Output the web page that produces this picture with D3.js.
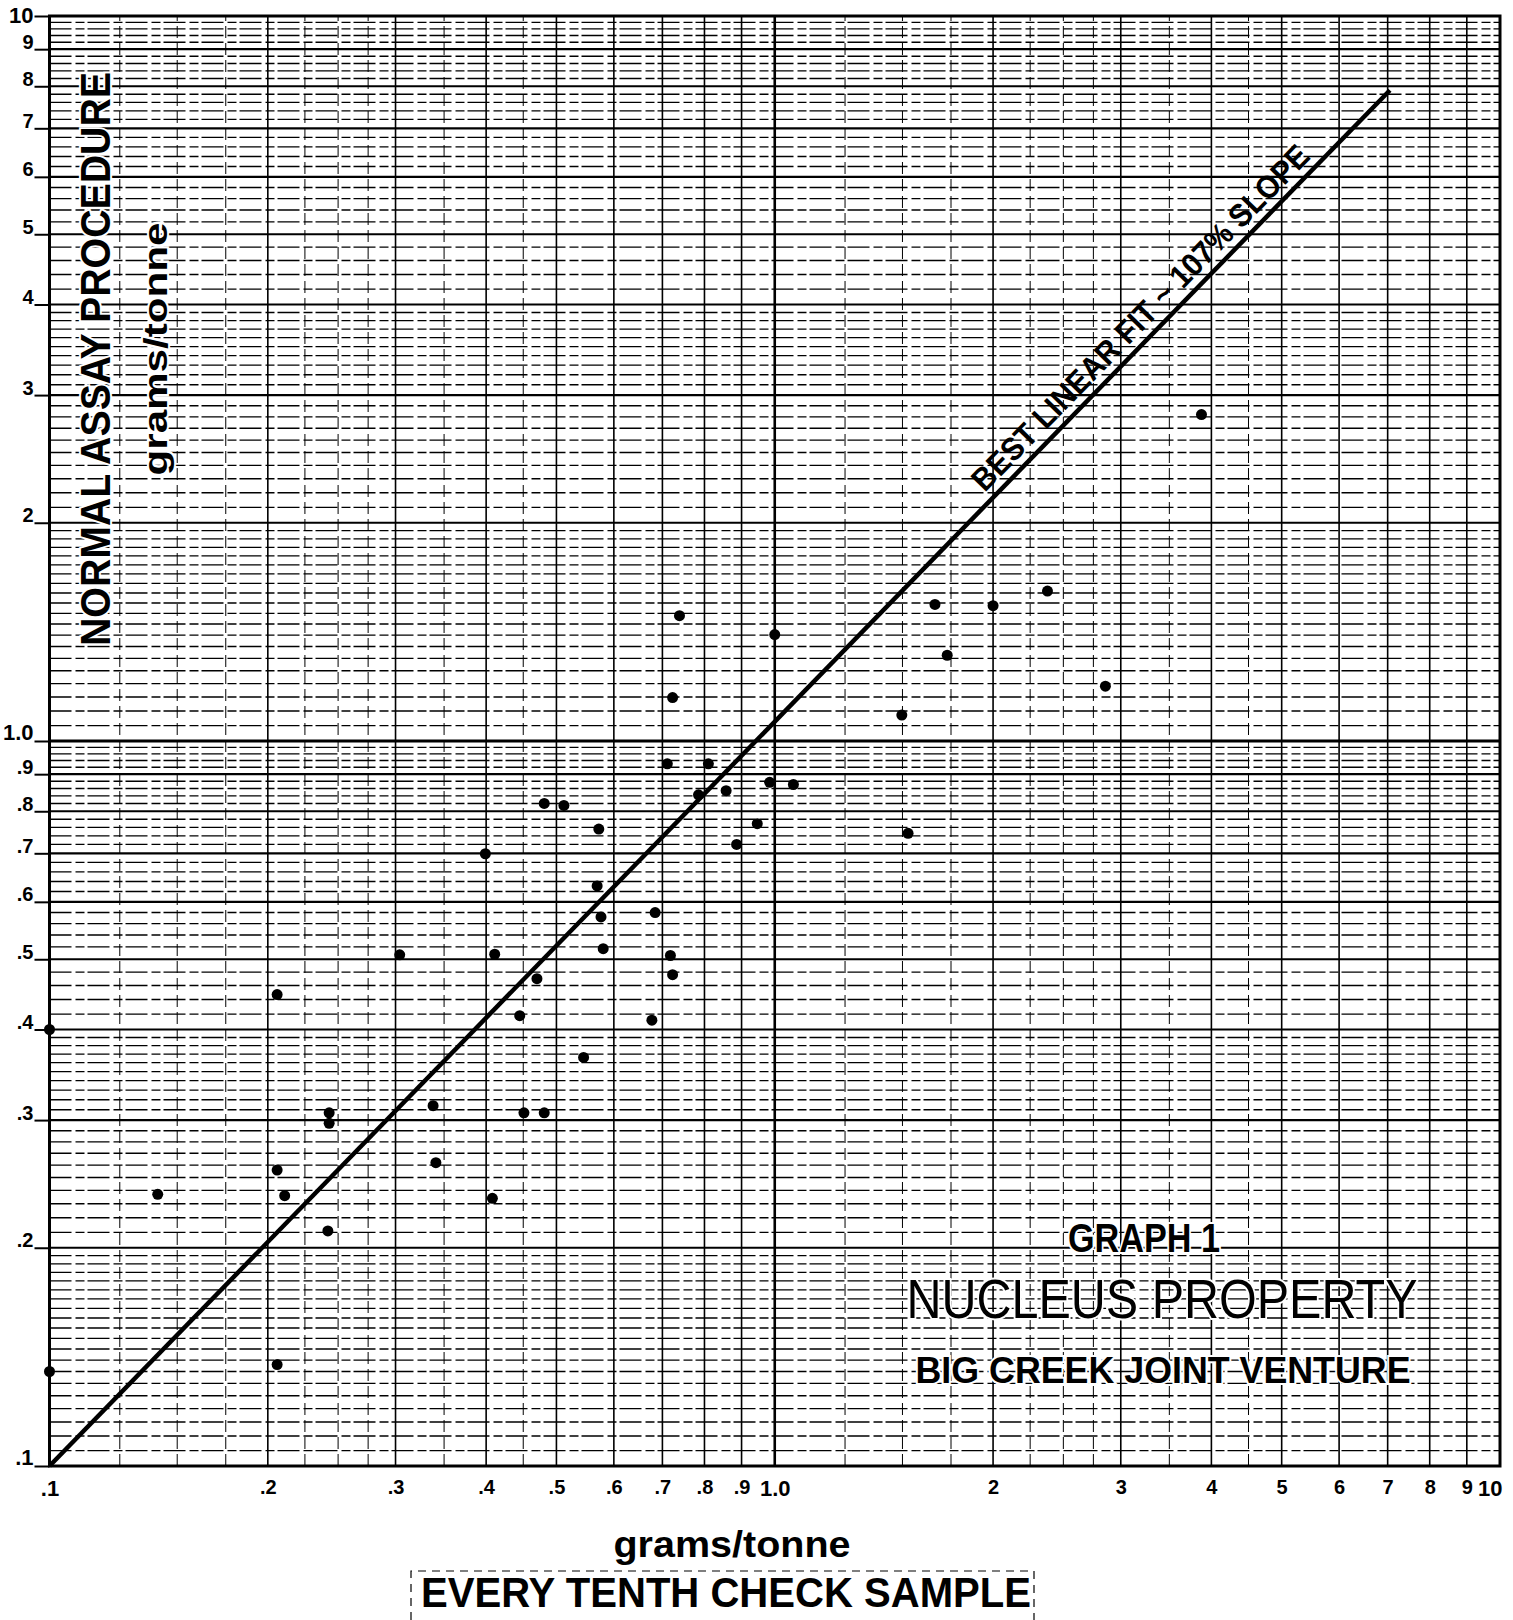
<!DOCTYPE html>
<html>
<head>
<meta charset="utf-8">
<script src="https://d3js.org/d3.v7.min.js"></script>
<style>
  body { margin: 0; background: #fff; }
  text { font-family: "Liberation Sans", Arial, sans-serif; fill: #000; }
</style>
</head>
<body>
<div id="chart"></div>
<script>
// check assay (x) vs normal assay (y), grams/tonne
var checkAssay = [0.100, 0.100, 0.141, 0.206, 0.206, 0.211, 0.206, 0.243, 0.243, 0.242,
                  0.304, 0.338, 0.341, 0.399, 0.411, 0.408, 0.445, 0.451, 0.481, 0.470,
                  0.481, 0.512, 0.545, 0.572, 0.569, 0.576, 0.580, 0.684, 0.677, 0.711,
                  0.723, 0.739, 0.718, 0.723, 0.785, 0.810, 0.857, 0.886, 0.946, 0.984,
                  1.000, 1.061, 1.497, 1.527, 1.663, 1.729, 2.000, 2.377, 2.857, 3.876];
var normalAssay = [0.400, 0.135, 0.237, 0.447, 0.256, 0.236, 0.138, 0.307, 0.297, 0.211,
                   0.507, 0.314, 0.262, 0.699, 0.508, 0.234, 0.418, 0.307, 0.307, 0.470,
                   0.820, 0.815, 0.366, 0.756, 0.631, 0.572, 0.517, 0.580, 0.412, 0.930,
                   1.148, 1.489, 0.506, 0.476, 0.843, 0.930, 0.854, 0.720, 0.769, 0.877,
                   1.402, 0.871, 1.086, 0.746, 1.543, 1.313, 1.537, 1.610, 1.190, 2.820];

// best linear fit, drawn end to end
var fitX = [0.1, 7.05];
var fitY = [0.1, 7.9];

var tickValues = [0.1, 0.2, 0.3, 0.4, 0.5, 0.6, 0.7, 0.8, 0.9, 1, 2, 3, 4, 5, 6, 7, 8, 9, 10];
var tickLabels = [".1", ".2", ".3", ".4", ".5", ".6", ".7", ".8", ".9", "1.0",
                  "2", "3", "4", "5", "6", "7", "8", "9", "10"];
var boldLabels = [".1", "1.0", "10"];

// graph paper rulings, as mantissas within one decade
var decades = [0.1, 1];
var xRuling = [1.25, 1.5, 1.75, 2.25, 2.5, 2.75, 3.5, 4.5];
var yRuling = [1.05, 1.1, 1.15, 1.2, 1.25, 1.3, 1.35, 1.4, 1.45, 1.5, 1.55, 1.6, 1.65, 1.7, 1.75,
               1.8, 1.85, 1.9, 1.95, 2.1, 2.2, 2.3, 2.4, 2.5, 2.6, 2.7, 2.8, 2.9, 3.1, 3.2, 3.3,
               3.4, 3.5, 3.6, 3.7, 3.8, 3.9, 4.2, 4.4, 4.6, 4.8, 5.2, 5.4, 5.6, 5.8, 6.2, 6.4,
               6.6, 6.8, 7.2, 7.4, 7.6, 7.8, 8.2, 8.4, 8.6, 8.8, 9.2, 9.4, 9.6, 9.8];
var majorRuling = [1, 2, 3, 4, 5, 6, 7, 8, 9];

var fitLabel = "BEST LINEAR FIT ~ 107% SLOPE";

var width = 1513, height = 1620;
var margin = {top: 16, right: 13, bottom: 154, left: 49.5};

var x = d3.scaleLog().domain([0.1, 10]).range([margin.left, width - margin.right]);
var y = d3.scaleLog().domain([0.1, 10]).range([height - margin.bottom, margin.top]);

var svg = d3.select("#chart").append("svg")
    .attr("width", width)
    .attr("height", height);

svg.append("rect").attr("width", width).attr("height", height).attr("fill", "#fff");

function expand(mantissas) {
    var out = [];
    decades.forEach(function(d) {
        mantissas.forEach(function(m) { out.push(+(d * m).toPrecision(4)); });
    });
    return out;
}

var grid = svg.append("g");

grid.selectAll(".hminor")
    .data(expand(yRuling))
  .enter().append("line")
    .attr("x1", x(0.1)).attr("x2", x(10))
    .attr("y1", function(d) { return y(d); })
    .attr("y2", function(d) { return y(d); })
    .attr("stroke", "#000")
    .attr("stroke-width", 1.3)
    .attr("stroke-dasharray", "22,4,9,3");

grid.selectAll(".vminor")
    .data(expand(xRuling))
  .enter().append("line")
    .attr("y1", y(0.1)).attr("y2", y(10))
    .attr("x1", function(d) { return x(d); })
    .attr("x2", function(d) { return x(d); })
    .attr("stroke", "#000")
    .attr("stroke-width", 1)
    .attr("stroke-dasharray", "12,5");

grid.selectAll(".hmajor")
    .data(expand(majorRuling))
  .enter().append("line")
    .attr("x1", x(0.1)).attr("x2", x(10))
    .attr("y1", function(d) { return y(d); })
    .attr("y2", function(d) { return y(d); })
    .attr("stroke", "#000")
    .attr("stroke-width", function(d) { return d === 1 ? 3 : 2.2; });

grid.selectAll(".vmajor")
    .data(expand(majorRuling))
  .enter().append("line")
    .attr("y1", y(0.1)).attr("y2", y(10))
    .attr("x1", function(d) { return x(d); })
    .attr("x2", function(d) { return x(d); })
    .attr("stroke", "#000")
    .attr("stroke-width", function(d) { return d === 1 ? 2.6 : 1.6; });

svg.append("rect")
    .attr("x", x(0.1)).attr("y", y(10))
    .attr("width", x(10) - x(0.1))
    .attr("height", y(0.1) - y(10))
    .attr("fill", "none")
    .attr("stroke", "#000")
    .attr("stroke-width", 3);

// axes: tick labels drawn by d3 axis generators
var xAxis = svg.append("g")
    .attr("transform", "translate(0," + y(0.1) + ")")
    .call(d3.axisBottom(x).tickValues(tickValues)
        .tickFormat(function(d, i) { return tickLabels[i]; })
        .tickSize(0).tickPadding(14));

var yAxis = svg.append("g")
    .attr("transform", "translate(" + x(0.1) + ",0)")
    .call(d3.axisLeft(y).tickValues(tickValues)
        .tickFormat(function(d, i) { return tickLabels[i]; })
        .tickSize(15).tickPadding(1));

[xAxis, yAxis].forEach(function(ax) {
    ax.select(".domain").remove();
    ax.selectAll("text")
        .attr("font-family", "Liberation Sans, Arial, sans-serif")
        .attr("font-weight", "bold")
        .attr("font-size", function(d, i) { return boldLabels.indexOf(tickLabels[i]) >= 0 ? 22 : 20; })
        .attr("fill", "#000");
});
yAxis.selectAll("line").attr("stroke", "#000").attr("stroke-width", 2);
yAxis.selectAll("text").attr("dy", function(d) { return d === 10 ? "0.3em" : "-0.05em"; });
xAxis.select(".tick:last-of-type text").attr("text-anchor", "end").attr("dx", "2");

// fit line
var fit = fitX.map(function(v, i) { return {x: v, y: fitY[i]}; });
svg.append("path")
    .datum(fit)
    .attr("fill", "none")
    .attr("stroke", "#000")
    .attr("stroke-width", 4.5)
    .attr("d", d3.line().x(function(d) { return x(d.x); }).y(function(d) { return y(d.y); }));

var angle = Math.atan2(y(fitY[1]) - y(fitY[0]), x(fitX[1]) - x(fitX[0])) * 180 / Math.PI;
var lx = x(3.34);
var ly = y(fitY[0]) + (lx - x(fitX[0])) * (y(fitY[1]) - y(fitY[0])) / (x(fitX[1]) - x(fitX[0]));
svg.append("text")
    .attr("transform", "translate(" + lx + "," + ly + ") rotate(" + angle + ")")
    .attr("y", -9)
    .attr("text-anchor", "middle")
    .attr("font-size", 32)
    .attr("font-weight", "bold")
    .attr("textLength", 468)
    .attr("lengthAdjust", "spacingAndGlyphs")
    .text(fitLabel);

// points
var points = checkAssay.map(function(v, i) { return {x: v, y: normalAssay[i]}; });
svg.append("g").selectAll("circle")
    .data(points)
  .enter().append("circle")
    .attr("cx", function(d) { return x(d.x); })
    .attr("cy", function(d) { return y(d.y); })
    .attr("r", 5.5)
    .attr("fill", "#000");

// title block inside the plot
function addText(tx, ty, str, size, weight, len) {
    return svg.append("text")
        .attr("x", tx).attr("y", ty)
        .attr("text-anchor", "middle")
        .attr("font-size", size)
        .attr("font-weight", weight)
        .attr("textLength", len)
        .attr("lengthAdjust", "spacingAndGlyphs")
        .text(str);
}

function halo(t) {
    t.attr("stroke", "#fff").attr("stroke-width", 4).attr("paint-order", "stroke");
}

halo(addText(1144, 1252, "GRAPH 1", 40, "bold", 152));
halo(addText(1162, 1318, "NUCLEUS PROPERTY", 55, "normal", 511));
halo(addText(1163, 1383, "BIG CREEK JOINT VENTURE", 36, "bold", 495));

// axis titles
halo(svg.append("text")
    .attr("transform", "translate(110,359) rotate(-90)")
    .attr("text-anchor", "middle")
    .attr("font-size", 42)
    .attr("font-weight", "bold")
    .attr("textLength", 574)
    .attr("lengthAdjust", "spacingAndGlyphs")
    .text("NORMAL ASSAY PROCEDURE"));

halo(svg.append("text")
    .attr("transform", "translate(167,349) rotate(-90)")
    .attr("text-anchor", "middle")
    .attr("font-size", 34)
    .attr("font-weight", "bold")
    .attr("textLength", 253)
    .attr("lengthAdjust", "spacingAndGlyphs")
    .text("grams/tonne"));

addText(732, 1557, "grams/tonne", 36, "bold", 237);
addText(726, 1607, "EVERY TENTH CHECK SAMPLE", 42, "bold", 610);

svg.append("path")
    .attr("d", "M411,1620 V1571 H1034 V1620")
    .attr("fill", "none")
    .attr("stroke", "#000")
    .attr("stroke-width", 1.2)
    .attr("stroke-dasharray", "8,6");
</script>
</body>
</html>
